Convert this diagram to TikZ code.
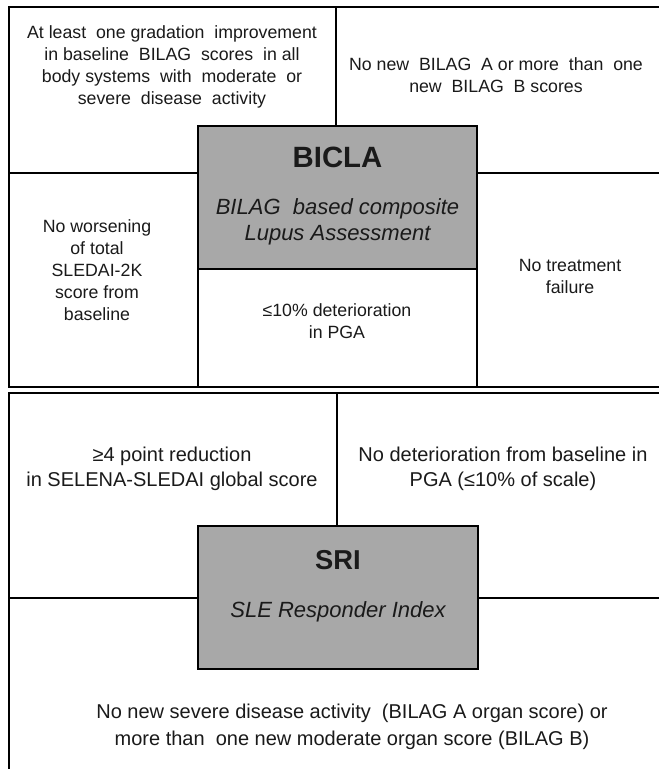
\documentclass[tikz,border=0pt]{standalone}
\usepackage{fontspec}
\setmainfont{Liberation Sans}
\definecolor{boxgray}{HTML}{A8A8A8}
\definecolor{txt}{HTML}{1A1A1A}
\begin{document}
\begin{tikzpicture}[x=0.75pt,y=-0.75pt,
  frame/.style={line width=1.8pt,draw=black},
  celltext/.style={align=center,text=txt,font=\fontsize{13.3}{16.5}\selectfont,inner sep=0pt},
  bigtext/.style={align=center,text=txt,font=\fontsize{15}{18.75}\selectfont,inner sep=0pt},
  bottomtext/.style={align=center,text=txt,font=\fontsize{15}{20}\selectfont,inner sep=0pt},
  graybox/.style={frame,fill=boxgray},
  titletext/.style={text=txt,font=\fontsize{22}{24}\selectfont\bfseries,inner sep=0pt},
  subtext/.style={align=center,text=txt,font=\fontsize{16.5}{19.5}\selectfont\itshape,inner sep=0pt}]
\useasboundingbox[fill=white] (0,0) rectangle (659,769);
\clip (0,0) rectangle (659,769);
% ---------- top panel (BICLA) ----------
\draw[frame] (9,7) rectangle (680,387);
\draw[frame] (336,7) -- (336,126);
\draw[frame] (9,173) -- (198,173);
\draw[frame] (477,173) -- (680,173);
\draw[frame] (198,269) -- (198,387);
\draw[frame] (477,269) -- (477,387);
\draw[graybox] (198,126) rectangle (477,269);
\node[titletext] (bicla) at (337.5,157) {BICLA};
\node[subtext] (biclasub) at (337.5,222) {BILAG\ \ based composite\\Lupus Assessment};
\node[celltext] (tl) at (172,67) {At least\ \ one gradation\ \ improvement\\in baseline\ \ BILAG\ \ scores\ \ in all\\body systems\ \ with\ \ moderate\ \ or\\severe\ \ disease\ \ activity};
\node[celltext] (tr) at (496,75) {No new\ \ BILAG\ \ A or more\ \ than\ \ one\\new\ \ BILAG\ \ B scores};
\node[celltext] (ml) at (97,270) {No worsening\\of total\\SLEDAI-2K\\score from\\baseline};
\node[celltext] (mc) at (337,321) {≤10\% deterioration\\in PGA};
\node[celltext] (mr) at (570,276) {No treatment\\failure};
% ---------- bottom panel (SRI) ----------
\draw[frame] (9,393) rectangle (680,790);
\draw[frame] (337,393) -- (337,526);
\draw[frame] (9,598) -- (198,598);
\draw[frame] (478,598) -- (680,598);
\draw[graybox] (198,526) rectangle (478,669);
\node[titletext,font=\fontsize{20.5}{24}\selectfont\bfseries] (sri) at (338,560) {SRI};
\node[subtext] (srisub) at (338,612) {SLE Responder Index};
\node[bigtext] (bl) at (172,469) {≥4 point reduction\\in SELENA-SLEDAI global score};
\node[bigtext] (br) at (503,469) {No deterioration from baseline in\\PGA (≤10\% of scale)};
\node[bottomtext] (bb) at (352,727) {No new severe disease activity\ \ (BILAG A organ score) or\\more than\ \ one new moderate organ score (BILAG B)};
\end{tikzpicture}
\end{document}
